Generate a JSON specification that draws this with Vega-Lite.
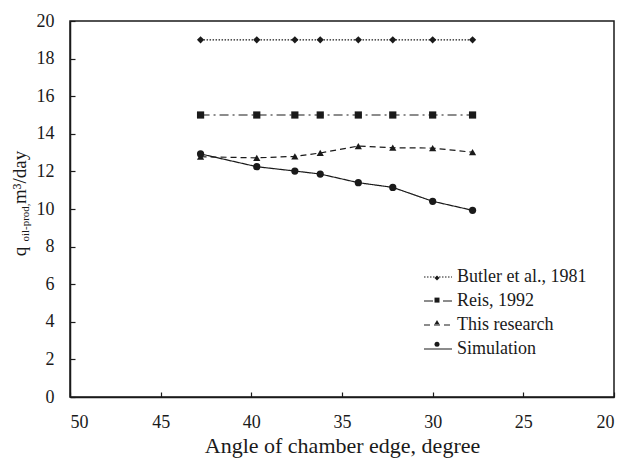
{
  "$schema": "https://vega.github.io/schema/vega-lite/v6.json",
  "width": 544,
  "height": 376,
  "autosize": {"type": "none"},
  "padding": {"left": 70, "top": 21, "right": 13, "bottom": 62},
  "background": "white",
  "config": {
    "view": {"stroke": "#1a1a1a", "strokeWidth": 1.5},
    "font": "Liberation Serif",
    "axis": {
      "labelFont": "Liberation Serif",
      "titleFont": "Liberation Serif",
      "labelColor": "#1a1a1a",
      "titleColor": "#1a1a1a",
      "titleFontWeight": "normal",
      "domainColor": "#1a1a1a",
      "domainWidth": 1.5,
      "tickColor": "#1a1a1a",
      "tickWidth": 1.2,
      "grid": false
    },
    "legend": {
      "labelFont": "Liberation Serif",
      "labelFontSize": 18,
      "labelColor": "#1a1a1a",
      "padding": 0
    }
  },
  "data": {
    "values": [
      {"angle": 42.8, "q": 19.0, "series": "Butler et al., 1981"},
      {"angle": 39.7, "q": 19.0, "series": "Butler et al., 1981"},
      {"angle": 37.6, "q": 19.0, "series": "Butler et al., 1981"},
      {"angle": 36.2, "q": 19.0, "series": "Butler et al., 1981"},
      {"angle": 34.1, "q": 19.0, "series": "Butler et al., 1981"},
      {"angle": 32.2, "q": 19.0, "series": "Butler et al., 1981"},
      {"angle": 30.0, "q": 19.0, "series": "Butler et al., 1981"},
      {"angle": 27.8, "q": 19.0, "series": "Butler et al., 1981"},
      {"angle": 42.8, "q": 15.0, "series": "Reis, 1992"},
      {"angle": 39.7, "q": 15.0, "series": "Reis, 1992"},
      {"angle": 37.6, "q": 15.0, "series": "Reis, 1992"},
      {"angle": 36.2, "q": 15.0, "series": "Reis, 1992"},
      {"angle": 34.1, "q": 15.0, "series": "Reis, 1992"},
      {"angle": 32.2, "q": 15.0, "series": "Reis, 1992"},
      {"angle": 30.0, "q": 15.0, "series": "Reis, 1992"},
      {"angle": 27.8, "q": 15.0, "series": "Reis, 1992"},
      {"angle": 42.8, "q": 12.78, "series": "This research"},
      {"angle": 39.7, "q": 12.72, "series": "This research"},
      {"angle": 37.6, "q": 12.8, "series": "This research"},
      {"angle": 36.2, "q": 12.98, "series": "This research"},
      {"angle": 34.1, "q": 13.35, "series": "This research"},
      {"angle": 32.2, "q": 13.26, "series": "This research"},
      {"angle": 30.0, "q": 13.24, "series": "This research"},
      {"angle": 27.8, "q": 13.02, "series": "This research"},
      {"angle": 42.8, "q": 12.93, "series": "Simulation"},
      {"angle": 39.7, "q": 12.25, "series": "Simulation"},
      {"angle": 37.6, "q": 12.02, "series": "Simulation"},
      {"angle": 36.2, "q": 11.86, "series": "Simulation"},
      {"angle": 34.1, "q": 11.4, "series": "Simulation"},
      {"angle": 32.2, "q": 11.15, "series": "Simulation"},
      {"angle": 30.0, "q": 10.41, "series": "Simulation"},
      {"angle": 27.8, "q": 9.93, "series": "Simulation"}
    ]
  },
  "encoding": {
    "x": {
      "field": "angle",
      "type": "quantitative",
      "scale": {"domain": [20, 50], "reverse": true, "nice": false},
      "axis": {
        "values": [20, 25, 30, 35, 40, 45, 50],
        "title": "Angle of chamber edge, degree",
        "labelFont": "Liberation Serif",
        "titleFont": "Liberation Serif",
        "labelFontSize": 18,
        "titleFontSize": 22,
        "tickSize": -5,
        "labelPadding": 21,
        "titlePadding": 4
      }
    }
  },
  "layer": [
    {
      "mark": {"type": "line", "color": "#1a1a1a", "strokeWidth": 1.2},
      "encoding": {
        "y": {
          "field": "q",
          "type": "quantitative",
          "scale": {"domain": [0, 20], "nice": false},
          "axis": {
            "values": [0, 2, 4, 6, 8, 10, 12, 14, 16, 18, 20],
            "title": "q\u2002\u2002\u2002\u2002\u00a0m³/day",
            "labelFont": "Liberation Serif",
            "titleFont": "Liberation Serif",
            "labelFontSize": 18,
            "titleFontSize": 19,
            "tickSize": -5,
            "labelPadding": 21,
            "titleAngle": 270,
            "titleAlign": "center",
            "titleBaseline": "alphabetic",
            "titleX": -45,
            "titleY": 182
          }
        },
        "strokeDash": {
          "field": "series",
          "type": "nominal",
          "scale": {
            "domain": ["Butler et al., 1981", "Reis, 1992", "This research", "Simulation"],
            "range": [[1.5, 1.5], [9, 4, 2, 4], [6, 4], [1, 0]]
          },
          "legend": {
            "title": null,
            "orient": "none",
            "legendX": 353,
            "legendY": 241,
            "symbolType": "stroke",
            "symbolSize": 784,
            "symbolStrokeWidth": 1.2,
            "symbolStrokeColor": "#1a1a1a",
            "labelFont": "Liberation Serif",
            "labelOffset": 4,
            "rowPadding": -2.7
          }
        }
      }
    },
    {
      "mark": {"type": "point", "filled": true, "color": "#1a1a1a", "opacity": 1, "size": 52},
      "encoding": {
        "y": {
          "field": "q",
          "type": "quantitative",
          "scale": {"domain": [0, 20], "nice": false},
          "axis": {
            "orient": "left",
            "title": "oil-prod,",
            "titleFont": "Liberation Serif",
            "titleFontSize": 11,
            "labels": false,
            "ticks": false,
            "domain": false,
            "titleAngle": 270,
            "titleAlign": "center",
            "titleBaseline": "alphabetic",
            "titleX": -42,
            "titleY": 201
          }
        },
        "shape": {
          "field": "series",
          "type": "nominal",
          "sort": ["Butler et al., 1981", "Reis, 1992", "This research", "Simulation"],
          "scale": {"range": ["diamond", "square", "triangle-up", "circle"]},
          "legend": {
            "title": null,
            "orient": "none",
            "legendX": 358,
            "legendY": 248,
            "symbolSize": 25,
            "symbolFillColor": "#1a1a1a",
            "symbolStrokeWidth": 0,
            "labelExpr": "''",
            "labelOffset": 4,
            "rowPadding": 4.1
          }
        }
      }
    }
  ],
  "resolve": {"scale": {"y": "independent"}}
}
